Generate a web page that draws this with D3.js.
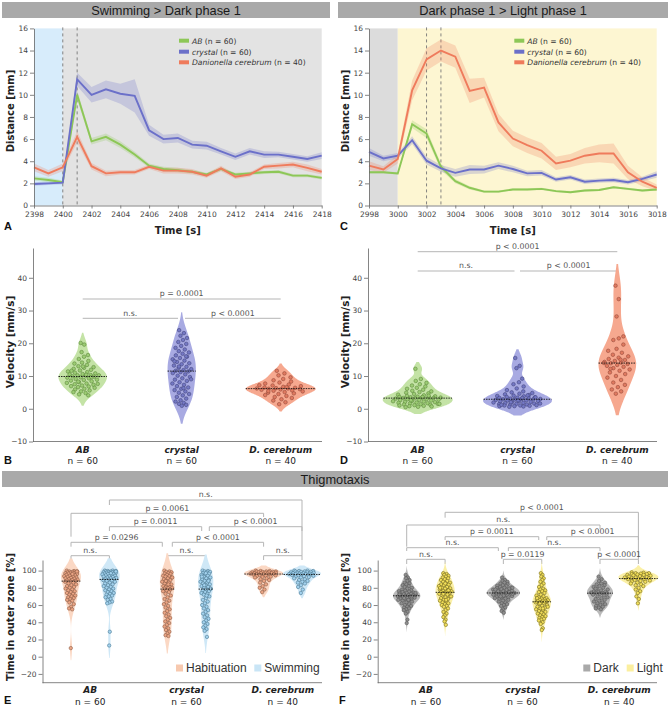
<!DOCTYPE html>
<html><head><meta charset="utf-8">
<script src="https://cdn.jsdelivr.net/npm/d3@7"></script>
<style>body{margin:0;background:#fff} svg{display:block}</style>
</head><body>
<svg id="c" width="670" height="708"></svg>
<script>
// ================= DATA =================
const timeA = [2398,2399,2400,2401,2402,2403,2404,2405,2406,2407,2408,2409,2410,2411,2412,2413,2414,2415,2416,2417,2418];
const timeC = [2998,2999,3000,3001,3002,3003,3004,3005,3006,3007,3008,3009,3010,3011,3012,3013,3014,3015,3016,3017,3018];
const xTicksA = [2398,2400,2402,2404,2406,2408,2410,2412,2414,2416,2418];
const xTicksC = [2998,3000,3002,3004,3006,3008,3010,3012,3014,3016,3018];
const distTicks = [0,2,4,6,8,10,12,14,16];

const A_AB      = [2.45,2.3,2.1,10.0,5.8,6.2,5.5,4.6,3.6,3.3,3.2,3.05,2.8,3.3,2.8,2.9,3.0,3.05,2.7,2.7,2.5];
const A_AB_err  = [0.2,0.2,0.15,0.4,0.3,0.3,0.3,0.25,0.2,0.2,0.2,0.15,0.15,0.15,0.15,0.15,0.15,0.15,0.15,0.15,0.15];
const A_cry     = [1.94,2.0,2.06,11.4,10.0,10.5,10.1,9.9,6.8,6.0,6.1,5.5,5.4,4.9,4.4,4.9,4.6,4.6,4.4,4.2,4.5];
const A_cry_err = [0.15,0.15,0.15,0.6,0.7,0.8,0.9,1.5,0.5,0.4,0.4,0.35,0.35,0.3,0.3,0.3,0.3,0.25,0.25,0.25,0.3];
const A_dc      = [3.45,2.9,3.45,6.2,3.55,2.9,3.0,3.0,3.5,3.15,3.15,3.05,2.7,3.35,2.6,2.8,3.5,3.6,3.7,3.4,3.05];
const A_dc_err  = [0.35,0.3,0.35,0.5,0.3,0.25,0.2,0.2,0.2,0.25,0.25,0.25,0.2,0.25,0.2,0.2,0.2,0.25,0.25,0.3,0.25];

const C_AB      = [3.0,3.0,2.9,7.35,6.5,3.5,2.2,1.6,1.25,1.25,1.45,1.45,1.5,1.3,1.2,1.35,1.4,1.65,1.5,1.35,1.45];
const C_AB_err  = [0.1,0.1,0.1,0.35,0.4,0.3,0.2,0.15,0.1,0.1,0.1,0.1,0.1,0.1,0.1,0.1,0.1,0.1,0.1,0.1,0.1];
const C_cry     = [4.85,4.25,4.5,5.9,4.05,3.35,2.95,3.25,3.25,3.6,3.3,2.9,2.95,2.35,2.55,2.15,2.25,2.3,2.1,2.4,2.8];
const C_cry_err = [0.35,0.25,0.25,0.35,0.35,0.3,0.35,0.4,0.35,0.3,0.3,0.25,0.25,0.2,0.2,0.2,0.2,0.2,0.2,0.2,0.3];
const C_dc      = [3.6,3.25,4.2,10.4,13.2,14.0,13.45,10.35,10.65,7.5,6.05,5.45,4.95,3.8,4.05,4.5,4.7,4.7,3.0,2.15,1.6];
const C_dc_err  = [0.4,0.3,0.4,0.9,1.0,1.0,1.0,1.1,0.9,0.8,0.7,0.7,0.7,0.6,0.6,0.7,0.8,0.9,0.6,0.4,0.3];

const seriesNames = ["AB","crystal","Danionella cerebrum"];
const seriesN = ["(n = 60)","(n = 60)","(n = 40)"];

const groups = ["AB","crystal","D. cerebrum"];
const groupN = ["n = 60","n = 60","n = 40"];
const velTicks = [-10,0,10,20,30,40];
const pctTicks = [-20,0,20,40,60,80,100];

// Panel B – velocity swimming > dark
const B_AB = [20.1,19.6,17.3,16.4,15.9,15.2,14.6,14.1,13.8,13.4,13.0,12.7,12.5,12.2,11.9,11.7,11.4,11.2,11.0,10.8,10.6,10.5,10.3,10.2,10.2,10.1,9.9,9.8,9.6,9.5,9.3,9.1,8.9,8.8,8.6,8.4,8.1,7.9,7.7,7.5,7.3,7.1,6.9,6.8,6.6,6.4,6.1,5.9,5.6,5.3,5.1,4.8,4.4,4.1,12.9,11.6,9.7,8.3,7.6,10.4];
const B_cry = [24.0,23.1,22.3,21.6,21.0,20.4,19.8,19.2,18.6,18.1,17.6,17.2,16.8,16.3,15.9,15.5,15.1,14.7,14.3,13.9,13.6,13.2,12.8,12.5,12.1,11.8,11.6,11.4,11.2,10.9,10.5,10.1,9.7,9.3,8.9,8.5,8.1,7.7,7.3,6.9,6.5,6.1,5.7,5.3,4.9,4.5,4.1,3.6,3.1,2.6,2.2,1.8,1.5,1.2,0.9,14.5,16.0,12.9,9.0,6.3];
const B_dc = [11.6,10.8,10.2,9.6,9.1,8.7,8.3,8.0,7.7,7.4,7.1,6.9,6.7,6.5,6.4,6.3,6.2,6.2,6.1,6.0,5.9,5.8,5.6,5.5,5.3,5.1,4.9,4.7,4.5,4.2,3.9,3.6,3.3,2.9,2.5,2.0,1.4,7.2,6.6,5.4];
const B_comp = [["AB","D. cerebrum","p = 0.0001"],["AB","crystal","n.s."],["crystal","D. cerebrum","p < 0.0001"]];

// Panel D – velocity dark > light
const D_AB = [12.2,9.1,8.5,7.9,7.5,7.1,6.8,6.4,6.1,5.8,5.5,5.3,5.1,4.9,4.7,4.5,4.3,4.1,3.9,3.8,3.7,3.6,3.5,3.5,3.4,3.4,3.3,3.3,3.2,3.1,3.0,2.9,2.8,2.7,2.6,2.5,2.4,2.3,2.2,2.1,2.0,1.9,1.8,1.7,1.6,1.5,1.4,1.3,1.2,1.1,1.0,0.9,0.8,0.7,0.6,0.5,4.0,2.6,1.5,3.6];
const D_cry = [15.5,13.1,12.4,9.2,8.1,7.5,6.8,6.2,5.7,5.3,5.0,4.8,4.6,4.4,4.2,4.0,3.9,3.8,3.6,3.5,3.4,3.3,3.2,3.1,3.0,3.0,2.9,2.9,2.8,2.7,2.6,2.5,2.4,2.3,2.2,2.1,2.0,1.9,1.8,1.7,1.6,1.5,1.4,1.3,1.2,1.1,1.0,1.0,0.9,0.8,0.8,0.7,0.6,3.5,2.6,1.2,4.1,2.0,1.6,3.3];
const D_dc = [37.6,33.5,28.2,22.1,21.5,21.0,19.6,18.3,17.7,17.1,16.5,16.0,15.6,15.2,14.9,14.6,14.3,14.1,13.9,13.7,13.4,13.1,12.8,12.4,12.0,11.6,11.1,10.6,10.0,9.5,8.8,8.0,7.3,6.6,5.9,5.3,4.6,14.0,15.0,12.2];
const D_comp = [["AB","D. cerebrum","p < 0.0001"],["AB","crystal","n.s."],["crystal","D. cerebrum","p < 0.0001"]];

// Panel E – thigmotaxis habituation vs swimming
const E_AB_H = [100,99.5,99,99,98.5,98,98,97.5,97,97,96.5,96,95.5,95,94.5,94,93.5,93,92.5,92,91.5,91,90.5,90,89.5,89,88.5,88,87.5,87,86,85,84,83,82,81,80,79,78,77,76,75,74,73,72,71,70,69,68,67,66,65,63,61,58,56,55,10,99,96];
const E_AB_S = [100,100,99.5,99.5,99,99,98.5,98.5,98,98,97.5,97,97,96.5,96,96,95.5,95,94.5,94,93.5,93,92.5,92,91.5,91,90.5,90,89.5,89,88.5,88,87,86,85,84,83,82,81,80,79,78,77,76,75,74,73,72,71,70,69,67,66,64,63,62,29,13,99,97];
const E_cr_H = [100,99,98.5,98,97,96.5,96,95,94,93.5,93,92,91,90,89,88,87,86,85,84,83,82,81,80.5,80,79.5,79,78,77,76,75,73,71,69,67,65,63,61,59,57,55,53,51,49,47,45,43,41,39,37,35,33,31,29,27,25,24,88,92,84];
const E_cr_S = [100,99.5,99,98.5,98,97,96.5,96,95,94,93,92,91,90,89,88,87,86,85,84,83,82,81,80,79,78,77,76,75,74,73,72,70,68,66,64,62,60,58,56,54,52,50,48,46,44,42,40,38,36,34,32,30,23,97,93,88,83,79,71];
const E_dc_H = [100,99.5,99.5,99,99,99,98.5,98.5,98,98,98,97.5,97.5,97,97,97,96.5,96.5,96,96,96,95.5,95,95,94.5,94,93.5,93,92.5,92,91,90,89,88,86,84,82,80,78,75];
const E_dc_S = [100,100,99.5,99.5,99,99,98.5,98.5,98,98,97.5,97.5,97,97,96.5,96.5,96,96,96,95.5,95.5,95,95,94.5,94,93.5,93,92.5,92,91,90,89,88,87,86,85,83,81,78,74];
const E_conds = ["Habituation","Swimming"];
const E_comp = [["AB|1","D. cerebrum|1","n.s."],["AB|0","D. cerebrum|0","p = 0.0061"],["AB|1","crystal|1","p = 0.0011"],["crystal|1","D. cerebrum|1","p < 0.0001"],["AB|0","crystal|0","p = 0.0296"],["crystal|0","D. cerebrum|0","p < 0.0001"],["AB|0","AB|1","n.s."],["crystal|0","crystal|1","n.s."],["D. cerebrum|0","D. cerebrum|1","n.s."]];

// Panel F – thigmotaxis dark vs light
const F_AB_D = [95,92,91,89,88,86,85,84,83,82,81,80,79,78,77,76.5,76,75.5,75,74.5,74,73.5,73,72.5,72,71.5,71,71,70.5,70,69.5,69,68.5,68,67.5,67,66.5,66,65.5,65,64,63,62,61,60,59,58,57,56,55,54,52,50,43,39,72,70,68,74,66];
const F_AB_L = [97,96,95,94,93,92,91,90,89,88,87,86,85,84,83.5,83,82,81,80,79.5,79,78,77,76.5,76,75.5,75,74.5,74,73,72,71,70,69,68,67,66,65,64,63,62,61,60,59,58,56,54,52,50,48,46,43,41,37,85,80,77,73,70,66];
const F_cr_D = [92,89,88,87,86,85,84,83,82.5,82,81,80.5,80,79.5,79,78.5,78,77.5,77,76.5,76,75.5,75,74.5,74,74,73.5,73,72.5,72,71.5,71,70.5,70,69.5,69,68.5,68,67.5,67,66,65,64,63,62,61,60,59,57,55,53,51,76,73,71,78,75,70,80,74];
const F_cr_L = [97,95,93,91,89,87,85,83,81,79,78,77,76,75,74,72,71,70,69,68,67.5,67,66.5,66,65.5,65,64.5,64,63.5,63,62,61,60,59,58,57,56,55,54,53,52,51,50,49,48,47,46,45,44,43,42,40,38,33,31,68,64,62,58,56];
const F_dc_D = [93,90,88,86,85,84,83,82,81,80,79,78,77,76,75.5,75,74.5,74,74,73.5,73,72,71,70,69,68,67,66,65,64,63,62,61,60,59,58,57,56,55,79];
const F_dc_L = [98,97.5,97,97,96.5,96,96,95.5,95,95,94.5,94,93.5,93,92.5,92,92,91.5,91,91,90.5,90,89.5,89,88.5,88,87.5,87,86,85,84,83,82,80,78,76,74,70,67,62];
const F_conds = ["Dark","Light"];
const F_comp = [["AB|1","D. cerebrum|1","p < 0.0001"],["AB|0","D. cerebrum|0","n.s."],["AB|1","crystal|1","p = 0.0011"],["crystal|1","D. cerebrum|1","p < 0.0001"],["AB|0","crystal|0","n.s."],["crystal|0","D. cerebrum|0","n.s."],["AB|0","AB|1","n.s."],["crystal|0","crystal|1","p = 0.0119"],["D. cerebrum|0","D. cerebrum|1","p < 0.0001"]];

// ================= STYLE / LAYOUT =================
const F1 = "DejaVu Sans", F2 = "Liberation Sans";
const lineCol = ["#8dc757","#6b70c9","#ef7b5c"];
const violinFill = ["#c4e3a6","#a8aae2","#f6a88f"];
const dotFill = ["#9ccc74","#7478c4","#e07a60"];
const dotStroke = ["#5e8a3c","#44477f","#97493a"];
const svg = d3.select("#c");

function header(x0, x1, y0, y1, text) {
  svg.append("rect").attr("x", x0).attr("y", y0).attr("width", x1 - x0).attr("height", y1 - y0).attr("fill", "#a9a9a9");
  svg.append("text").attr("x", (x0 + x1) / 2).attr("y", (y0 + y1) / 2 + 0.5).attr("text-anchor", "middle")
    .attr("dominant-baseline", "central").attr("font-family", F2).attr("font-size", 12.8).attr("fill", "#1a1a1a").text(text);
}
function panelLetter(x, y, t) {
  svg.append("text").attr("x", x).attr("y", y).attr("font-family", F2).attr("font-weight", "bold").attr("font-size", 11).attr("fill", "#111").text(t);
}
function styleAxis(g) {
  g.selectAll("path.domain").attr("stroke", "#666").attr("stroke-width", 0.8);
  g.selectAll(".tick line").attr("stroke", "#666").attr("stroke-width", 0.8);
  g.selectAll(".tick text").attr("font-family", F1).attr("font-size", 7.5).attr("fill", "#444");
}
function yLabel(x, y, t, fs) {
  svg.append("text").attr("transform", `translate(${x},${y}) rotate(-90)`).attr("text-anchor", "middle")
    .attr("font-family", F1).attr("font-weight", "bold").attr("font-size", fs || 10).attr("fill", "#222").text(t);
}

// ---------- line panels ----------
function linePanel(o) {
  const x = d3.scaleLinear().domain([o.t[0], o.t[o.t.length - 1]]).range(o.xr);
  const y = d3.scaleLinear().domain([0, 16]).range([205.5, 28.4]);
  const g = svg.append("g");
  g.append("rect").attr("x", x(o.t[0])).attr("y", y(16)).attr("width", x(o.switchT) - x(o.t[0])).attr("height", y(0) - y(16)).attr("fill", o.preBg);
  g.append("rect").attr("x", x(o.switchT)).attr("y", y(16)).attr("width", x(o.t[o.t.length - 1]) - x(o.switchT)).attr("height", y(0) - y(16)).attr("fill", o.postBg);
  o.dashT.forEach(t => g.append("line").attr("x1", x(t)).attr("x2", x(t)).attr("y1", y(16) - 1).attr("y2", y(0))
    .attr("stroke", "#777").attr("stroke-width", 0.9).attr("stroke-dasharray", "3,3"));
  o.series.forEach((s, k) => {
    const area = d3.area().x((d, i) => x(o.t[i])).y0((d, i) => y(d - s.e[i])).y1((d, i) => y(d + s.e[i]));
    g.append("path").datum(s.v).attr("d", area).attr("fill", lineCol[k]).attr("opacity", 0.25);
  });
  o.series.forEach((s, k) => {
    const line = d3.line().x((d, i) => x(o.t[i])).y(d => y(d));
    g.append("path").datum(s.v).attr("d", line).attr("fill", "none").attr("stroke", lineCol[k]).attr("stroke-width", 1.9);
  });
  const ya = g.append("g").attr("transform", `translate(${o.xr[0]},0)`)
    .call(d3.axisLeft(y).tickValues(distTicks).tickSize(4).tickPadding(2).tickSizeOuter(0));
  styleAxis(ya);
  const xa = g.append("g").attr("transform", `translate(0,${y(0)})`)
    .call(d3.axisBottom(x).tickValues(o.xt).tickFormat(d3.format("d")).tickSize(3).tickPadding(3.5).tickSizeOuter(0));
  styleAxis(xa);
  // legend
  seriesNames.forEach((nm, k) => {
    const ly = o.legY[k];
    g.append("rect").attr("x", o.legX).attr("y", ly - 2).attr("width", 10).attr("height", 4).attr("fill", lineCol[k]);
    const t = g.append("text").attr("x", o.legX + 13).attr("y", ly + 2.8).attr("font-family", F1).attr("font-size", 7.6).attr("fill", "#333");
    t.append("tspan").attr("font-style", "italic").text(nm);
    t.append("tspan").text(" " + seriesN[k]);
  });
  g.append("text").attr("x", (o.xr[0] + o.xr[1]) / 2).attr("y", 233.5).attr("text-anchor", "middle")
    .attr("font-family", F1).attr("font-weight", "bold").attr("font-size", 10).attr("fill", "#222").text("Time [s]");
}

// ---------- KDE ----------
function kde(vals) {
  const n = vals.length, sd = d3.deviation(vals);
  const bw = sd * Math.pow(n, -0.2);
  const lo = d3.min(vals) - 2 * bw, hi = d3.max(vals) + 2 * bw;
  const dens = t => { let s = 0; for (const v of vals) { const z = (t - v) / bw; s += Math.exp(-0.5 * z * z); } return s / (n * bw * Math.sqrt(2 * Math.PI)); };
  const pts = d3.range(0, 151).map(i => { const t = lo + (hi - lo) * i / 150; return [t, dens(t)]; });
  return { pts, dens };
}
const jit = i => ((i * 0.618034 + 0.137) % 1) * 2 - 1;

// violins: list of {cx, vals, fill, dFill, dStroke}; width = kf * density^pw
function drawViolins(g, y, list, maxHW, r, pw) {
  const ks = list.map(v => kde(v.vals));
  const maxD = d3.max(ks, k => d3.max(k.pts, p => p[1]));
  const kf = maxHW / Math.pow(maxD, pw);
  const W = d => kf * Math.pow(d, pw);
  list.forEach((v, j) => {
    const K = ks[j];
    const area = d3.area().curve(d3.curveBasis).y(p => y(p[0])).x0(p => v.cx - W(p[1])).x1(p => v.cx + W(p[1]));
    g.append("path").datum(K.pts).attr("d", area).attr("fill", v.fill);
  });
  list.forEach((v, j) => {
    const K = ks[j];
    const med = d3.median(v.vals);
    const hw = W(K.dens(med));
    v.vals.forEach((d, i) => {
      const w = W(K.dens(d)) * 0.72;
      g.append("circle").attr("cx", v.cx + jit(i) * w).attr("cy", y(d)).attr("r", r)
        .attr("fill", v.dFill).attr("stroke", v.dStroke).attr("stroke-width", 0.6);
    });
    g.append("line").attr("x1", v.cx - hw).attr("x2", v.cx + hw).attr("y1", y(med)).attr("y2", y(med))
      .attr("stroke", "#111").attr("stroke-width", 0.9).attr("stroke-dasharray", "1.5,1");
  });
}

function catLabels(g, xs, yb) {
  groups.forEach((gr, i) => {
    g.append("text").attr("x", xs[i]).attr("y", yb).attr("text-anchor", "middle").attr("font-family", F1)
      .attr("font-weight", "bold").attr("font-style", "italic").attr("font-size", 9).attr("fill", "#222").text(gr);
    g.append("text").attr("x", xs[i]).attr("y", yb + 11.5).attr("text-anchor", "middle").attr("font-family", F1)
      .attr("font-size", 9).attr("fill", "#222").text(groupN[i]);
  });
}

function drawBracket(g, x1, x2, yl, la, lb, label) {
  g.append("path").attr("d", `M${x1},${la}L${x1},${yl}L${x2},${yl}L${x2},${lb}`).attr("fill", "none")
    .attr("stroke", "#b5b5b5").attr("stroke-width", 1);
  g.append("text").attr("x", (x1 + x2) / 2).attr("y", yl - 2.6).attr("text-anchor", "middle").attr("font-family", F1)
    .attr("font-size", 7.8).attr("fill", "#555").text(label);
}

// ---------- velocity panels ----------
function velPanel(o) {
  const g = svg.append("g");
  const y = d3.scaleLinear().domain([-10, 49.1]).range([441.5, 248]);
  const x = d3.scalePoint().domain(groups).range(o.cr);
  const ya = g.append("g").attr("transform", `translate(${o.ax[0]},0)`)
    .call(d3.axisLeft(y).tickValues(velTicks).tickSize(4).tickPadding(2).tickSizeOuter(0));
  styleAxis(ya);
  g.append("line").attr("x1", o.ax[0]).attr("x2", o.ax[1]).attr("y1", y(-10)).attr("y2", y(-10)).attr("stroke", "#666").attr("stroke-width", 0.8);
  o.comp.forEach((c, i) => {
    const L = o.bl[i];
    const x1 = x(c[0]) + L.na, x2 = x(c[1]) + L.nb;
    drawBracket(g, x1, x2, L.y, L.y, L.y, c[2]);
  });
  drawViolins(g, y, o.data.map((vals, i) => ({ cx: x(groups[i]), vals, fill: violinFill[i], dFill: dotFill[i], dStroke: dotStroke[i] })), o.maxHW, 1.8, o.pw);
  catLabels(g, groups.map(d => x(d)), 452.5);
}

// ---------- thigmotaxis panels ----------
function thigPanel(o) {
  const g = svg.append("g");
  const y = d3.scaleLinear().domain([-30.2, 112.3]).range([682.7, 560]);
  const x = d3.scalePoint().domain(groups).range(o.cr);
  const off = [-19.2, 19.2];
  const xk = key => { const [gr, c] = key.split("|"); return x(gr) + off[+c]; };
  const ya = g.append("g").attr("transform", `translate(${o.ax[0]},0)`)
    .call(d3.axisLeft(y).tickValues(pctTicks).tickSize(4).tickPadding(2).tickSizeOuter(0));
  styleAxis(ya);
  g.append("line").attr("x1", o.ax[0]).attr("x2", o.ax[1]).attr("y1", 682.7).attr("y2", 682.7).attr("stroke", "#666").attr("stroke-width", 0.8);
  o.comp.forEach((c, i) => {
    const L = o.bl[i];
    drawBracket(g, xk(c[0]) + (L.na || 0), xk(c[1]) + (L.nb || 0), L.y, L.la, L.lb, c[2]);
  });
  const list = [];
  o.data.forEach((pair, gi) => pair.forEach((vals, ci) => list.push({
    cx: x(groups[gi]) + off[ci], vals, fill: o.vFill[ci], dFill: o.dFill[ci], dStroke: o.dStroke[ci] })));
  drawViolins(g, y, list, o.maxHW, 1.7, o.pw);
  catLabels(g, groups.map(d => x(d)), 693.3);
  o.conds.forEach((c, i) => {
    g.append("rect").attr("x", o.legX[i]).attr("y", 664.5).attr("width", 7).attr("height", 7).attr("fill", o.legFill[i]);
    g.append("text").attr("x", o.legX[i] + 10).attr("y", 671.8).attr("font-family", F2).attr("font-size", 12).attr("fill", "#333").text(c);
  });
}

// ================= DRAW =================
header(2, 330, 2, 18, "Swimming > Dark phase 1");
header(338, 668, 2, 18, "Dark phase 1 > Light phase 1");
header(2, 668, 471, 487, "Thigmotaxis");

linePanel({ t: timeA, xr: [34, 321.7], xt: xTicksA, switchT: 2400, dashT: [2400, 2401], preBg: "#d7ecfb", postBg: "#e3e3e3",
  series: [{ v: A_AB, e: A_AB_err }, { v: A_cry, e: A_cry_err }, { v: A_dc, e: A_dc_err }], legX: 179, legY: [40.7, 51.7, 62.3] });
linePanel({ t: timeC, xr: [369, 656.7], xt: xTicksC, switchT: 3000, dashT: [3002, 3003], preBg: "#dcdcdc", postBg: "#fdf6d2",
  series: [{ v: C_AB, e: C_AB_err }, { v: C_cry, e: C_cry_err }, { v: C_dc, e: C_dc_err }], legX: 514.3, legY: [40.7, 51.7, 62.3] });
yLabel(13.5, 111, "Distance [mm]");
yLabel(348.5, 111, "Distance [mm]");

velPanel({ ax: [33, 322], cr: [82.7, 280.7], data: [B_AB, B_cry, B_dc], comp: B_comp, maxHW: 35, pw: 0.75,
  bl: [{ y: 299, na: 0, nb: 0 }, { y: 318.3, na: 0, nb: -3.7 }, { y: 318.3, na: 3.3, nb: 0 }] });
velPanel({ ax: [368, 657], cr: [417.7, 617.3], data: [D_AB, D_cry, D_dc], comp: D_comp, maxHW: 35, pw: 0.62,
  bl: [{ y: 251.7, na: 0, nb: 0 }, { y: 271, na: 0, nb: -3 }, { y: 271, na: 2.5, nb: 0 }] });
yLabel(13.5, 342, "Velocity [mm/s]", 10.5);
yLabel(348.5, 342, "Velocity [mm/s]", 10.5);

thigPanel({ ax: [42.5, 322], cr: [90.2, 282.8], data: [[E_AB_H, E_AB_S], [E_cr_H, E_cr_S], [E_dc_H, E_dc_S]], comp: E_comp, conds: E_conds,
  vFill: ["#fbd8c4", "#cfe8f7"], dFill: ["#eba584", "#a3d2ee"], dStroke: ["#8b5a44", "#4c7892"], legFill: ["#f7c9af", "#c9e5f6"], legX: [176, 254.3], maxHW: 19.5, pw: 0.65,
  bl: [{ y: 500, la: 505, lb: 555.7 }, { y: 513.3, la: 536.7, lb: 517 }, { y: 526.7, la: 531, lb: 531, nb: -4 }, { y: 526.7, la: 531, lb: 531, na: 3.6 },
       { y: 542.3, la: 546.7, lb: 546.7, nb: -5 }, { y: 542.3, la: 546.7, lb: 546.7, na: 5 },
       { y: 555.7, la: 560, lb: 560 }, { y: 555.7, la: 560, lb: 560 }, { y: 555.7, la: 560, lb: 560 }] });
thigPanel({ ax: [377.7, 657], cr: [425.9, 619.2], data: [[F_AB_D, F_AB_L], [F_cr_D, F_cr_L], [F_dc_D, F_dc_L]], comp: F_comp, conds: F_conds,
  vFill: ["#bababa", "#fbf0a6"], dFill: ["#8e8e8e", "#f2df5a"], dStroke: ["#575757", "#736a22"], legFill: ["#a9a9a9", "#fbef9f"], legX: [583.3, 626.7], maxHW: 20, pw: 1,
  bl: [{ y: 512.3, la: 517.7, lb: 559.3 }, { y: 525, la: 546.7, lb: 529 }, { y: 536.7, la: 540, lb: 540, nb: -3 }, { y: 536.7, la: 540, lb: 540, na: 5 },
       { y: 547.7, la: 551, lb: 551, nb: -5 }, { y: 547.7, la: 551, lb: 551, na: 5 },
       { y: 559.3, la: 564, lb: 564 }, { y: 559.3, la: 564, lb: 564 }, { y: 559.3, la: 564, lb: 564 }] });
yLabel(13.5, 617, "Time in outer zone [%]");
yLabel(348.5, 617, "Time in outer zone [%]");

panelLetter(4, 229.5, "A");
panelLetter(340, 229.5, "C");
panelLetter(4, 463.5, "B");
panelLetter(340, 463.5, "D");
panelLetter(4, 704, "E");
panelLetter(339, 704, "F");
</script>
</body></html>
